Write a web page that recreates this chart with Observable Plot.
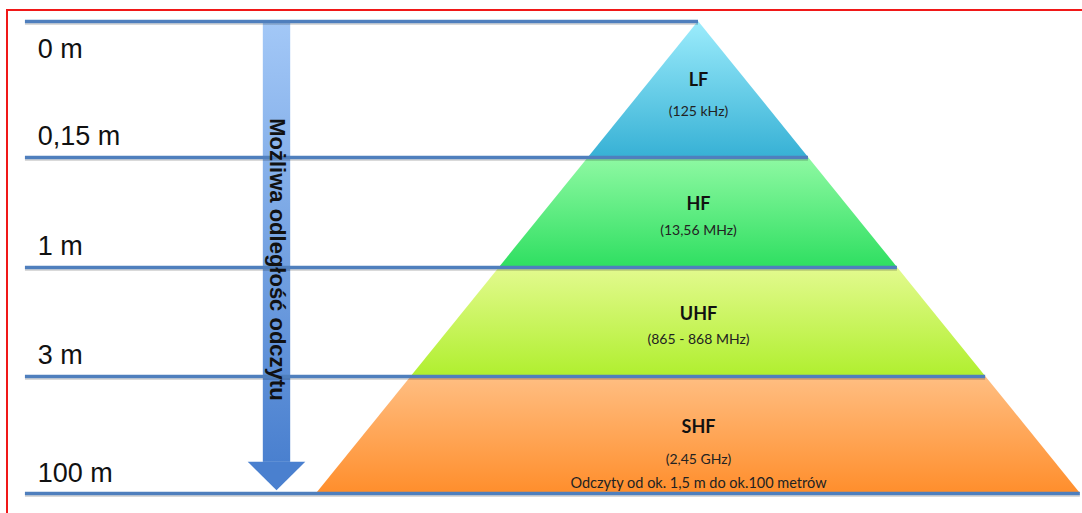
<!DOCTYPE html>
<html><head><meta charset="utf-8">
<script src="https://cdn.jsdelivr.net/npm/d3@7"></script>
<script src="https://cdn.jsdelivr.net/npm/@observablehq/plot@0.6"></script>
<style>
body{margin:0;background:#fff;}
#wrap{position:relative;width:1082px;height:513px;overflow:hidden;}
#border{position:absolute;left:6px;top:9px;right:-10px;bottom:-10px;border-top:2px solid #f01818;border-left:2px solid #f01818;pointer-events:none;}
</style></head><body><div id="wrap"><div id="chart"></div><div id="border"></div></div>
<script>
// Data
const levels = ["0 m", "0,15 m", "1 m", "3 m", "100 m"];
const levelPos = [0, 28.8, 52.1, 75.2, 100];   // schematic depth of each boundary
const bands = ["LF", "HF", "UHF", "SHF"];
const freqs = ["(125 kHz)", "(13,56 MHz)", "(865 - 868 MHz)", "(2,45 GHz)"];
const note = ["Odczyty od ok. 1,5 m do ok.100 metrów"];
const arrowLabel = ["Możliwa odległość odczytu"];

// Palette
const topColors = ["#9cecfc", "#8ff9a3", "#e3fa8f", "#ffbe82"];
const bottomColors = ["#37b1d5", "#2fdf61", "#b0ef2f", "#ff8e2c"];

// Layout constants
const slope = 0.809;
const lineStart = -142.6;
const labelX = -140;
const arrowX = -89.3, shaftHalf = 2.9, headHalf = 6.1, headStart = 93.4, tip = 99.4;

const marks = [];
bands.forEach((b, i) => {
  marks.push(Plot.areaX([levelPos[i], levelPos[i + 1]], {
    y: d => d, x1: d => -slope * d, x2: d => slope * d, fill: `url(#layer${i})`
  }));
});
// arrow
marks.push(Plot.rect([levelPos[0]], {
  x1: () => arrowX - shaftHalf, x2: () => arrowX + shaftHalf,
  y1: d => d, y2: () => headStart, fill: "url(#shaft)"
}));
marks.push(Plot.areaX([headStart, tip], {
  y: d => d,
  x1: d => arrowX - headHalf * (tip - d) / (tip - headStart),
  x2: d => arrowX + headHalf * (tip - d) / (tip - headStart),
  fill: "#4a80cf"
}));
// level lines
marks.push(Plot.ruleY(levelPos, {y: d => d, x1: () => lineStart, x2: d => slope * d, stroke: "#000", strokeOpacity: 0.15, strokeWidth: 3, dy: 2}));
marks.push(Plot.ruleY(levelPos, {y: d => d, x1: () => lineStart, x2: d => slope * d, stroke: "#4f7fbd", strokeWidth: 3.5}));
// level labels: first below its line, the others above
const labelStyle = {textAnchor: "start", lineAnchor: "bottom", fontFamily: "Liberation Sans, Arial, sans-serif", fontSize: 27, fill: "#111"};
marks.push(Plot.text(levels.slice(0, 1), {
  x: () => labelX, y: (d, i) => levelPos[i], text: d => d, dy: 36, ...labelStyle
}));
marks.push(Plot.text(levels.slice(1), {
  x: () => labelX, y: (d, i) => levelPos[i + 1], text: d => d, dy: -12, ...labelStyle
}));
// arrow label
marks.push(Plot.text(arrowLabel, {
  x: () => arrowX, y: () => 50.4, text: d => d, rotate: 90,
  fontFamily: "Liberation Sans, Arial, sans-serif", fontWeight: "bold", fontSize: 22, fill: "#111"
}));
// band labels
marks.push(Plot.text(bands, {
  x: () => 0, y: (d, i) => levelPos[i] + 0.43 * (levelPos[i + 1] - levelPos[i]), text: d => d,
  fontFamily: "Lato, sans-serif", fontWeight: "bold", fontSize: 18, fill: "#111"
}));
marks.push(Plot.text(freqs, {
  x: () => 0, y: (d, i) => levelPos[i] + (i === 3 ? 0.71 : 0.66) * (levelPos[i + 1] - levelPos[i]), text: d => d,
  fontFamily: "Lato, sans-serif", fontSize: 14, fill: "#222"
}));
marks.push(Plot.text(note, {
  x: () => 0, y: () => levelPos[3] + 0.91 * (levelPos[4] - levelPos[3]), text: d => d,
  fontFamily: "Lato, sans-serif", fontSize: 14.5, fill: "#222"
}));

const svg = Plot.plot({
  width: 1082, height: 513, margin: 0,
  x: {domain: [0, 100], range: [698, 1170], axis: null},
  y: {domain: [0, 100], range: [21, 493], axis: null},
  style: {background: "#fff", overflow: "visible"},
  marks
});

const defs = d3.select(svg).insert("defs", ":first-child");
bands.forEach((b, i) => {
  const g = defs.append("linearGradient").attr("id", `layer${i}`).attr("x1", 0).attr("y1", 0).attr("x2", 0).attr("y2", 1);
  g.append("stop").attr("offset", 0).attr("stop-color", topColors[i]);
  g.append("stop").attr("offset", 1).attr("stop-color", bottomColors[i]);
});
const sg = defs.append("linearGradient").attr("id", "shaft").attr("x1", 0).attr("y1", 0).attr("x2", 0).attr("y2", 1);
sg.append("stop").attr("offset", 0).attr("stop-color", "#a3c8f7");
sg.append("stop").attr("offset", 1).attr("stop-color", "#4a80cf");

document.getElementById("chart").appendChild(svg);
</script>
</body></html>
